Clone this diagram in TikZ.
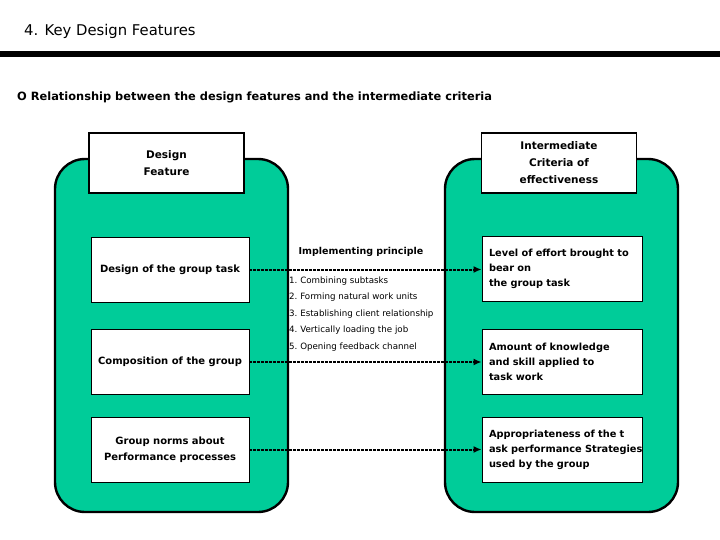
\documentclass[tikz,border=0pt]{standalone}
\usepackage{fontspec}
\setmainfont{DejaVu Sans}
\usetikzlibrary{arrows.meta}
\definecolor{teal1}{RGB}{0,204,153}
\newcommand\myNoHyph{\hyphenpenalty=10000 \exhyphenpenalty=10000 \hbadness=10000 \hfuzz=50pt\relax}
\begin{document}
\begin{tikzpicture}[x=1pt,y=-1pt,
  panel/.style={draw=black,line width=2.4pt,fill=teal1,rounded corners=30pt,minimum width=233pt,minimum height=353pt,inner sep=0pt},
  hdr/.style={draw=black,line width=1.6pt,fill=white,minimum width=155pt,minimum height=60pt,align=center,font=\fontsize{10.5}{17}\selectfont\bfseries,inner sep=0pt},
  lbox/.style={draw=black,line width=0.8pt,fill=white,minimum width=158pt,minimum height=65pt,align=center,font=\fontsize{10}{16.5}\selectfont\bfseries,inner sep=0pt},
  rbox/.style={draw=black,line width=0.8pt,fill=white,text width=146pt,minimum height=65pt,align=left,font=\fontsize{9.8}{15}\selectfont\bfseries,execute at begin node=\myNoHyph,inner xsep=7pt,inner ysep=0pt},
  item/.style={anchor=west,font=\fontsize{8.7}{10}\selectfont,inner sep=0pt},
  link/.style={line width=2pt,dash pattern=on 2.5pt off 1.5pt,-{Latex[length=8pt,width=7pt]},shorten >=0pt}
]
\useasboundingbox (0,0) rectangle (720,540);
\node[anchor=west,font=\fontsize{14.8}{16}\selectfont,inner sep=0pt] (title) at (24,31) {4. Key Design Features};
\draw[line width=6pt] (0,54) coordinate (l0) -- (720,54) coordinate (l1);
\node[anchor=west,font=\fontsize{11.4}{14}\selectfont\bfseries,inner sep=0pt] (sub) at (17,97) {O Relationship between the design features and the intermediate criteria};

\node[panel] (lp) at (171.5,335.5) {};
\node[panel] (rp) at (561.5,335.5) {};

\node[hdr] (dh) at (166.5,163) {Design\\Feature};
\node[hdr] (ih) at (559,163) {Intermediate\\Criteria of\\effectiveness};

\node[lbox] (l1b) at (170,269.5) {Design of the group task};
\node[lbox] (l2b) at (170,362) {Composition of the group};
\node[lbox] (l3b) at (170,449.5) {Group norms about\\Performance processes};

\node[rbox] (r1b) at (562,269) {Level of effort brought to\\bear on\\the group task};
\node[rbox] (r2b) at (562,362) {Amount of knowledge\\and skill applied to\\task work};
\node[rbox] (r3b) at (562,449.5) {Appropriateness of the t\\\mbox{ask performance Strategies}\\used by the group};

\node[font=\fontsize{9.5}{12}\selectfont\bfseries,inner sep=0pt] (ip) at (361,252) {Implementing principle};
\node[item] (i1) at (289,281) {1.\ Combining subtasks};
\node[item] (i2) at (289,297.5) {2.\ Forming natural work units};
\node[item] (i3) at (289,314) {3.\ Establishing client relationship};
\node[item] (i4) at (289,330.5) {4.\ Vertically loading the job};
\node[item] (i5) at (289,347) {5.\ Opening feedback channel};

\draw[link] (l1b.east) -- (l1b.east -| r1b.west);
\draw[link] (l2b.east) -- (r2b.west);
\draw[link] (l3b.east) -- (r3b.west);
\end{tikzpicture}
\end{document}
